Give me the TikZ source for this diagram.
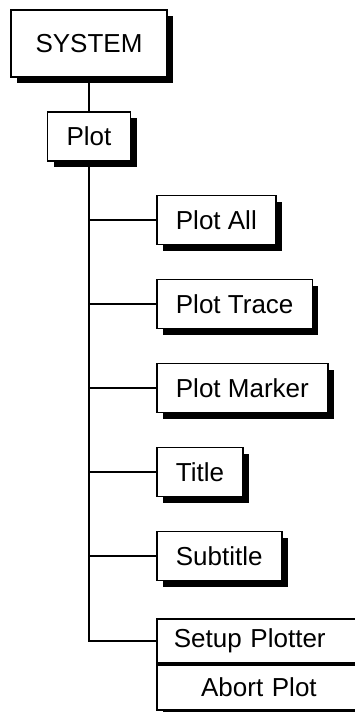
\documentclass[tikz,border=0pt]{standalone}
\usepackage{fontspec}
\setmainfont{Liberation Sans}
\usetikzlibrary{positioning,shadows}

\tikzset{
  menubox/.style={draw, line width=1.8pt, fill=white, minimum height=49pt,
    inner xsep=19pt, inner ysep=0pt, font=\fontsize{26}{30}\selectfont,
    drop shadow={shadow xshift=6pt, shadow yshift=-6pt, fill=black, opacity=1}},
  branch/.style={line width=1.8pt}
}

\begin{document}
\begin{tikzpicture}[x=1pt, y=-1pt]
    \useasboundingbox (0,0) rectangle (355,712);
    \clip (0,0) rectangle (355,712);

    % Top of the tree
    \node[menubox, minimum width=156pt, minimum height=67pt] (system) at (89,43.5) {SYSTEM};
    \node[menubox, minimum width=83pt] (plot) at (89,136.5) {Plot};
    \draw[branch] (system) -- (plot);

    % Plot submenu
    \node[menubox, anchor=west] (plotall) at (156,220) {Plot All};
    \node[menubox, anchor=west] (plottrace) at (156,304) {Plot Trace};
    \node[menubox, anchor=west] (plotmarker) at (156,388) {Plot Marker};
    \node[menubox, anchor=west] (title) at (156,472) {Title};
    \node[menubox, anchor=west] (subtitle) at (156,556) {Subtitle};

    % Split box at the bottom
    \node[menubox, anchor=north west, minimum width=204pt, minimum height=44pt,
          inner xsep=17pt, text width=170pt, align=left] (setup) at (156,618) {Setup Plotter};
    \node[menubox, anchor=north west, minimum width=204pt, minimum height=45pt,
          inner xsep=17pt, text width=170pt, align=center] (abort) at (setup.south west) {Abort Plot};

    % Connectors
    \draw[branch] (plot.south) |- (plotall.west);
    \draw[branch] (plot.south) |- (plottrace.west);
    \draw[branch] (plot.south) |- (plotmarker.west);
    \draw[branch] (plot.south) |- (title.west);
    \draw[branch] (plot.south) |- (subtitle.west);
    \draw[branch] (plot.south) |- (setup.west);
\end{tikzpicture}
\end{document}
